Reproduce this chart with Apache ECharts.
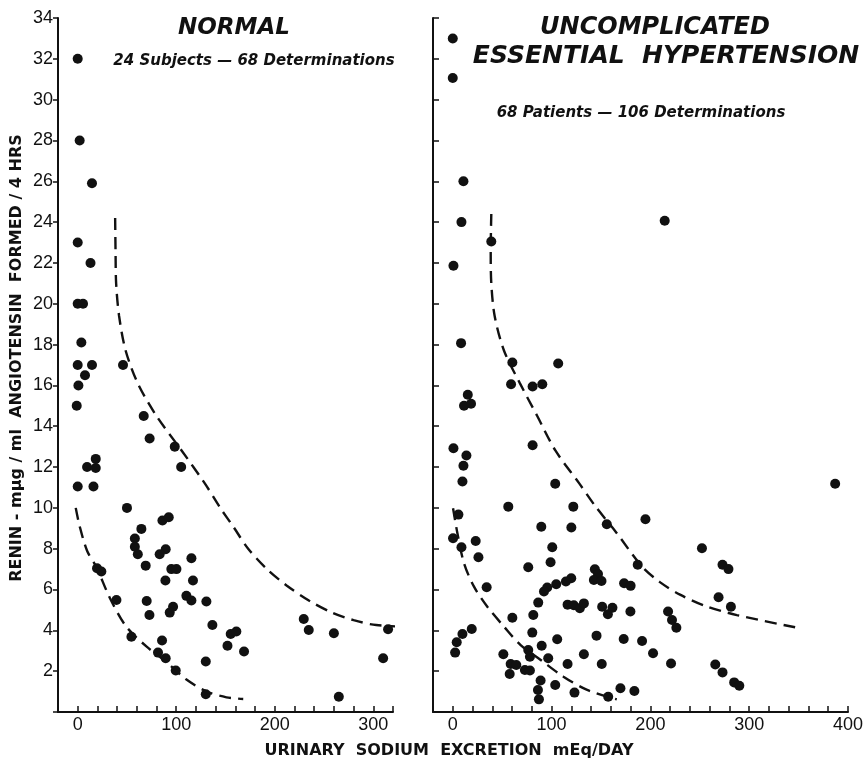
<!DOCTYPE html>
<html>
<head>
<meta charset="utf-8">
<script src="https://cdn.jsdelivr.net/npm/echarts@6/dist/echarts.min.js"></script>
<style>
  html, body { margin: 0; padding: 0; background: #fff; }
  #chart { width: 867px; height: 758px; }
</style>
</head>
<body>
<div id="chart"></div>
<script>
// renin (y) vs urinary sodium (x)
var normalPoints = [
  [0, 32.0], [2, 28.0], [14.5, 25.9], [0, 23.0], [13, 22.0], [0, 20.0], [5.4, 20.0],
  [3.7, 18.1], [0, 17.0], [14.5, 17.0], [7.4, 16.5], [0.7, 16.0], [-1, 15.0],
  [46, 17.0], [67, 14.5], [73, 13.4], [98.5, 13.0], [105, 12.0], [9.5, 12.0],
  [18.3, 12.4], [18.3, 11.95], [0, 11.05], [16, 11.05],
  [50, 10.0], [58, 8.5], [58, 8.1], [61, 7.73], [64.6, 8.97], [86, 9.38], [92.4, 9.54],
  [89.3, 7.97], [83.2, 7.73], [69, 7.17], [19.6, 7.04], [24, 6.88], [95, 7.0], [100.2, 7.0],
  [115.4, 7.53], [89, 6.44], [117, 6.44], [39.3, 5.49], [70, 5.44], [110.3, 5.69],
  [115.4, 5.46], [130.6, 5.41], [72.8, 4.75], [96.8, 5.16], [93.4, 4.87], [136.7, 4.26],
  [54.5, 3.69], [85.6, 3.5], [81.5, 2.91], [89.3, 2.63], [99.5, 2.03], [130, 2.47],
  [130, 0.87], [152, 3.25], [155.3, 3.82], [161, 3.94], [168.8, 2.96], [229.4, 4.56],
  [234.5, 4.02], [260, 3.86], [265, 0.75], [315, 4.05], [310, 2.63]
];
var hypertensionPoints = [
  [0, 33.0], [0, 31.06], [10.8, 26.0], [8.8, 24.0], [39, 23.05], [214.5, 24.07],
  [0.7, 21.86], [8.4, 18.07], [60.3, 17.12], [106.7, 17.07], [59, 16.06], [80.8, 15.95],
  [90.6, 16.06], [15.2, 15.54], [11.4, 15.0], [18.5, 15.1], [0.7, 12.92], [13.8, 12.57],
  [10.8, 12.06], [9.8, 11.29], [80.8, 13.07], [103.7, 11.18], [387, 11.18], [56.2, 10.06],
  [122, 10.06],
  [5.7, 9.67], [0.3, 8.51], [8.8, 8.07], [23.2, 8.38], [26, 7.58], [34.3, 6.11], [89.6, 9.08],
  [120, 9.04], [155.9, 9.2], [195, 9.44], [100.7, 8.07], [99, 7.34], [76.4, 7.09],
  [143.8, 6.99], [147, 6.76], [142.8, 6.47], [150.5, 6.42], [119.9, 6.55], [114.5, 6.39],
  [104.7, 6.26], [95.6, 6.1], [92.3, 5.9], [86.5, 5.36], [81.5, 4.75], [60.3, 4.62],
  [116.2, 5.26], [122.5, 5.23], [128.6, 5.08], [132.7, 5.32], [151.2, 5.16], [157, 4.79],
  [161.6, 5.11], [173.4, 6.31], [180, 6.18], [179.8, 4.92], [187.2, 7.21], [252.2, 8.02],
  [273, 7.21], [279, 7.0], [402, 7.16], [269, 5.62], [281.5, 5.16], [217.9, 4.92],
  [221.9, 4.51], [226.3, 4.13], [80.5, 3.89], [105.7, 3.56], [145.5, 3.74], [173, 3.58],
  [191.6, 3.48], [90, 3.25], [76.4, 3.04], [78.1, 2.71], [96.6, 2.63], [132.7, 2.83],
  [202.7, 2.88], [51.2, 2.83], [4, 3.42], [2.4, 2.91], [9.8, 3.82], [19.2, 4.07],
  [58.6, 2.35], [64.3, 2.3], [57.6, 1.86], [73, 2.06], [78.1, 2.03], [88.9, 1.54],
  [86.2, 1.08], [87.2, 0.62], [103.7, 1.32], [116.2, 2.35], [123.2, 0.95], [150.8, 2.35],
  [157.3, 0.75], [169.7, 1.16], [183.8, 1.03], [220.9, 2.38], [265.7, 2.33], [273, 1.94],
  [284.8, 1.45], [290, 1.29]
];
// dashed envelope curves
var normalUpper = [[38, 24.2], [38.4, 22.6], [39, 21], [42, 19.4], [48.7, 17.7], [61, 16.1],
  [80, 14.5], [105.6, 12.8], [129, 11.2], [144, 10.05], [159, 9.0], [173, 8.0], [192, 7.0],
  [212, 6.2], [235, 5.45], [259, 4.85], [280, 4.5], [303, 4.26], [347, 4.15]];
var normalLower = [[-2, 10], [2, 9.1], [9.5, 7.9], [19, 7.1], [32.5, 5.6], [49, 4.2], [70, 3.2],
  [90, 2.45], [110, 1.6], [131, 1.0], [151, 0.72], [168, 0.64]];
var hyperUpper = [[39, 24.4], [38.4, 22.6], [39, 21], [42.4, 19.4], [51.9, 17.7], [68, 16.1],
  [85.5, 14.5], [104, 12.8], [128, 11.2], [144, 10.1], [166, 8.76], [191.6, 7.12], [210, 6.35],
  [230, 5.75], [255, 5.2], [287.5, 4.75], [346.5, 4.15]];
var hyperLower = [[0.3, 9.98], [4.7, 8.76], [11.4, 7.29], [21.5, 6.14], [35, 5.16], [51.9, 4.18],
  [68.7, 3.28], [89, 2.55], [112, 1.73], [136, 1.08], [166, 0.62]];

var font = 'Liberation Sans, Arial, sans-serif';
var headFont = '"DejaVu Sans", sans-serif';
var myChart = echarts.init(document.getElementById('chart'));

function dashed(data, idx) {
  return {
    type: 'line', xAxisIndex: idx, yAxisIndex: idx, data: data,
    smooth: 0.3, symbol: 'none', clip: false, silent: true,
    lineStyle: { color: '#111', width: 2.4, type: [12, 7] }
  };
}
function dots(data, idx) {
  return {
    type: 'scatter', xAxisIndex: idx, yAxisIndex: idx, data: data,
    symbolSize: 10, itemStyle: { color: '#111', opacity: 1 }
  };
}
function label(text, x, y, size, italic, rot) {
  return {
    type: 'text', x: x, y: y, rotation: rot || 0,
    style: {
      text: text, fill: '#111', align: 'center', verticalAlign: 'middle',
      font: (italic ? 'italic ' : '') + 'bold ' + size + 'px ' + headFont
    }
  };
}

var option = {
  backgroundColor: '#fff',
  animation: false,
  graphic: [
    label('NORMAL', 234, 28, 23, true),
    label('24 Subjects — 68 Determinations', 254, 61, 15, true),
    label('UNCOMPLICATED', 655, 28, 24, true),
    label('ESSENTIAL  HYPERTENSION', 666, 56, 25, true),
    label('68 Patients — 106 Determinations', 641, 113, 15, true),
    label('URINARY  SODIUM  EXCRETION  mEq/DAY', 449, 751, 16, false),
    label('RENIN - mμg / ml  ANGIOTENSIN  FORMED / 4 HRS', 17, 358, 16, false, Math.PI / 2)
  ],
  grid: [
    { left: 58, right: 474, top: 18, bottom: 46 },
    { left: 433, right: 19, top: 18, bottom: 46 }
  ],
  xAxis: [0, 1].map(function (i) {
    return {
      type: 'value', gridIndex: i, min: -20, max: i === 0 ? 320 : 400, interval: 20,
      splitLine: { show: false },
      axisLine: { onZero: false, lineStyle: { color: '#111', width: 2 } },
      axisTick: { inside: true, length: 6, lineStyle: { color: '#111', width: 1.5 } },
      axisLabel: {
        color: '#111', fontFamily: font, fontSize: 18, margin: 4, showMinLabel: true, showMaxLabel: true,
        formatter: function (v) { return (v >= 0 && v % 100 === 0) ? String(v) : ''; }
      }
    };
  }),
  yAxis: [
    {
      type: 'value', gridIndex: 0, min: 0, max: 34, interval: 2,
      splitLine: { show: false },
      axisLine: { onZero: false, lineStyle: { color: '#111', width: 2 } },
      axisTick: { length: 5, lineStyle: { color: '#111', width: 1.5 } },
      axisLabel: {
        color: '#111', fontFamily: font, fontSize: 18, margin: 5,
        formatter: function (v) { return v === 0 ? '' : String(v); }
      }
    },
    {
      type: 'value', gridIndex: 1, min: 0, max: 34, interval: 2,
      splitLine: { show: false },
      axisLine: { onZero: false, lineStyle: { color: '#111', width: 2 } },
      axisTick: { inside: true, length: 6, lineStyle: { color: '#111', width: 1.5 } },
      axisLabel: { show: false }
    }
  ],
  series: [
    dashed(normalUpper, 0), dashed(normalLower, 0),
    dashed(hyperUpper, 1), dashed(hyperLower, 1),
    dots(normalPoints, 0), dots(hypertensionPoints, 1)
  ]
};
myChart.setOption(option);
</script>
</body>
</html>
